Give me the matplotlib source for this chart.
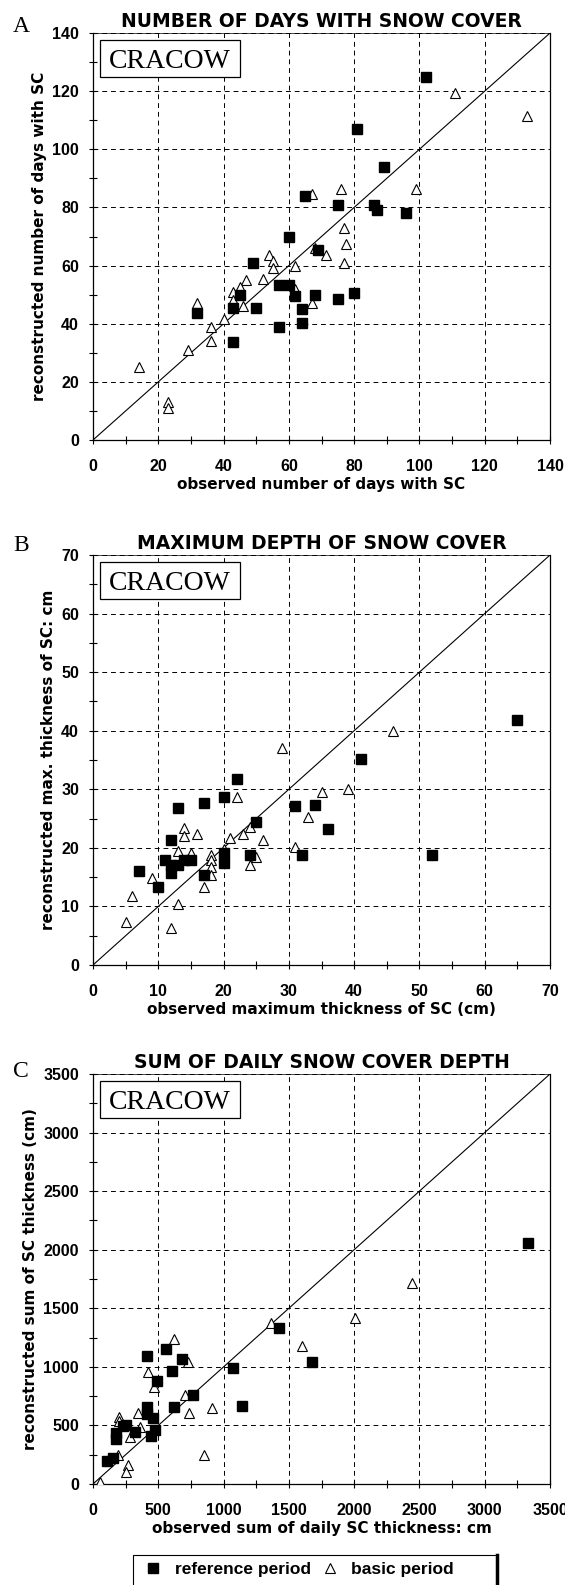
import matplotlib.pyplot as plt
from matplotlib.lines import Line2D
from matplotlib.patches import Rectangle

# A: number of days with snow cover (observed vs reconstructed)
a_ref_obs = [102, 81, 89, 65, 75, 86, 87, 96, 60, 69, 49, 57, 60, 62, 68, 64, 64, 57, 45, 43, 50, 32, 43, 75, 80]
a_ref_rec = [125, 107, 94, 84, 81, 81, 79, 78, 70, 65.5, 61, 53.3, 53.3, 49.4, 50, 45, 40.3, 39, 50, 45.5, 45.5, 43.7, 33.6, 48.6, 50.5]
a_bas_obs = [67, 68, 54, 55, 55, 62, 47, 52, 62, 67, 45, 43, 43, 46, 32, 40, 36, 14, 23, 23, 29, 36, 77, 76, 99, 111, 133, 77.5, 77, 71.5]
a_bas_rec = [84.5, 66, 63.5, 61.7, 59.2, 60, 55, 55.5, 52, 47, 52.5, 51, 48, 46, 47, 41.5, 39, 25, 13, 11, 31, 34, 73, 86.5, 86.5, 119.5, 111.5, 67.5, 61, 63.7]

# B: maximum depth of snow cover (cm)
b_ref_obs = [41, 65, 31, 34, 36, 32, 52, 22, 20, 17, 13, 25, 12, 11, 12, 12, 13, 14, 15, 7, 10, 17, 20, 20, 24]
b_ref_rec = [35.2, 41.8, 27.2, 27.4, 23.3, 18.8, 18.8, 31.8, 28.6, 27.7, 26.8, 24.5, 21.3, 17.9, 15.7, 17, 17, 18, 18, 16.1, 13.3, 15.3, 19.1, 17.4, 18.8]
b_bas_obs = [29, 46, 35, 39, 33, 31, 22, 24, 23, 21, 26, 14, 14, 16, 13, 15, 9, 6, 5, 12, 13, 17, 18, 18, 18, 18, 20, 25, 24]
b_bas_rec = [37, 40, 29.6, 30, 25.3, 20.2, 28.7, 23.5, 22.3, 21.7, 21.4, 23.4, 22, 22.3, 19.5, 19.2, 14.9, 11.8, 7.3, 6.3, 10.4, 13.3, 18.8, 18, 16.8, 15.4, 19.8, 18.4, 17.1]

# C: sum of daily snow cover depth (cm)
c_ref_obs = [3330, 1425, 1680, 1072, 1140, 765, 620, 558, 682, 607, 412, 490, 412, 412, 458, 255, 175, 175, 318, 445, 478, 108, 155, 232]
c_ref_rec = [2055, 1330, 1045, 988, 665, 758, 660, 1155, 1065, 963, 1090, 878, 658, 598, 563, 502, 435, 382, 442, 408, 460, 193, 218, 495]
c_bas_obs = [55, 190, 270, 250, 200, 200, 280, 360, 345, 705, 735, 915, 850, 1362, 2010, 1600, 2440, 425, 465, 620, 730]
c_bas_rec = [20, 245, 160, 100, 575, 540, 400, 485, 610, 760, 605, 650, 250, 1372, 1420, 1180, 1720, 952, 832, 1240, 1038]

SANS = 'DejaVu Sans'
ARIAL = 'Liberation Sans'
SERIF = 'Liberation Serif'


def panel(ax, ref_x, ref_y, bas_x, bas_y, lim, step, letter, letter_y, title, xlabel, ylabel):
    ax.set_xlim(0, lim)
    ax.set_ylim(0, lim)
    ax.set_xticks(range(0, lim + 1, step))
    ax.set_yticks(range(0, lim + 1, step))
    ax.set_xticks([v + step / 2 for v in range(0, lim, step)], minor=True)
    ax.set_yticks([v + step / 2 for v in range(0, lim, step)], minor=True)
    ax.grid(True, which='major', ls=(0, (5, 4)), color='black', lw=0.7)
    ax.tick_params(which='both', direction='inout', length=6, width=0.8, labelsize=11.5)
    ax.tick_params(axis='x', pad=11)
    ax.tick_params(axis='y', pad=7)
    for lab in ax.get_xticklabels() + ax.get_yticklabels():
        lab.set_fontweight('bold')
        lab.set_family(ARIAL)
    for s in ax.spines.values():
        s.set_linewidth(0.9)
    ax.spines['top'].set_linewidth(0.5)

    ax.plot([0, lim], [0, lim], color='black', lw=0.8, zorder=2)
    ax.plot(bas_x, bas_y, '^', ls='none', mfc='white', mec='black', ms=7, mew=0.8, zorder=3)
    ax.plot(ref_x, ref_y, 's', ls='none', color='black', ms=7, zorder=4)

    ax.set_title(title, fontsize=13.5, fontweight='bold', family=SANS, pad=4)
    ax.set_xlabel(xlabel, fontsize=11, fontweight='bold', family=SANS, labelpad=2)
    ax.set_ylabel(ylabel, fontsize=11, fontweight='bold', family=SANS, labelpad=4)
    ax.text(-0.175, letter_y, letter, transform=ax.transAxes, family=SERIF, fontsize=17,
            ha='left', va='center')
    # station name box
    ax.add_patch(Rectangle((0.015, 0.893), 0.307, 0.089, transform=ax.transAxes,
                           fc='white', ec='black', lw=0.9, zorder=6))
    ax.text(0.1685, 0.9375, 'CRACOW', transform=ax.transAxes, family=SERIF, fontsize=20,
            ha='center', va='center_baseline', zorder=7)


fig = plt.figure(figsize=(5.65, 15.85), dpi=100)
left, width = 93 / 565, 457 / 565
axA = fig.add_axes([left, 1 - 440 / 1585, width, 407 / 1585])
axB = fig.add_axes([left, 1 - 965 / 1585, width, 410 / 1585])
axC = fig.add_axes([left, 1 - 1484 / 1585, width, 410 / 1585])

panel(axA, a_ref_obs, a_ref_rec, a_bas_obs, a_bas_rec, 140, 20, 'A', 1.015,
      'NUMBER OF DAYS WITH SNOW COVER', 'observed number of days with SC',
      'reconstructed number of days with SC')
panel(axB, b_ref_obs, b_ref_rec, b_bas_obs, b_bas_rec, 70, 10, 'B', 1.024,
      'MAXIMUM DEPTH OF SNOW COVER', 'observed maximum thickness of SC (cm)',
      'reconstructed max. thickness of SC: cm')
panel(axC, c_ref_obs, c_ref_rec, c_bas_obs, c_bas_rec, 3500, 500, 'C', 1.006,
      'SUM OF DAILY SNOW COVER DEPTH', 'observed sum of daily SC thickness: cm',
      'reconstructed sum of SC thickness (cm)')

# legend box at the bottom (runs off the lower edge, thick right border)
box = Rectangle((133 / 565, -0.01), (497 - 133) / 565, 0.01 + (1585 - 1555) / 1585,
                transform=fig.transFigure, fc='white', ec='black', lw=0.8)
fig.add_artist(box)
fig.add_artist(Line2D([497 / 565, 497 / 565], [0, 1 - 1555 / 1585],
                      transform=fig.transFigure, color='black', lw=2.5))
handles = [Line2D([], [], marker='s', ls='none', color='black', ms=7),
           Line2D([], [], marker='^', ls='none', mfc='white', mec='black', ms=6.5, mew=0.8)]
fig.legend(handles, ['reference period', 'basic period'], ncol=2,
           loc='center left', bbox_to_anchor=(143 / 565, 1 - 1569 / 1585),
           frameon=False, handletextpad=0.63, columnspacing=0.49, handlelength=1.2,
           borderpad=0, borderaxespad=0,
           prop=dict(family=ARIAL, weight='bold', size=12.5))

fig.savefig('out.png', dpi=100)
